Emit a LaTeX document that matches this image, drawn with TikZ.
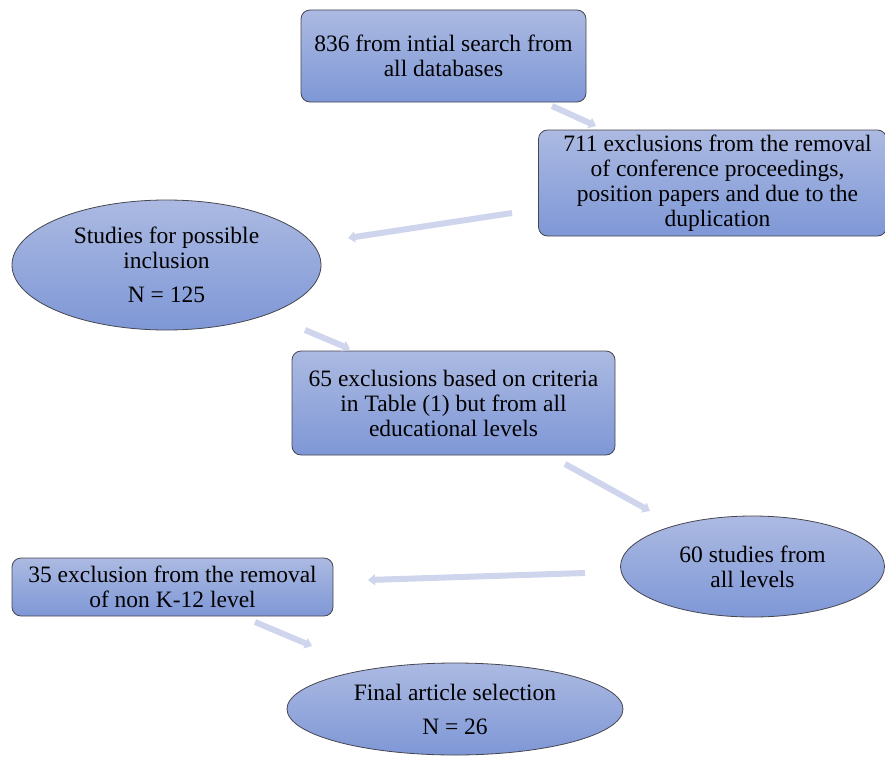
\documentclass[tikz,border=0pt]{standalone}
\usepackage{fontspec}
\setmainfont{Liberation Serif}
\usetikzlibrary{shapes.geometric,arrows.meta}
\definecolor{topc}{RGB}{172,186,226}
\definecolor{botc}{RGB}{126,151,214}
\definecolor{edgec}{RGB}{70,70,80}
\definecolor{arrc}{RGB}{206,213,236}
\tikzset{
  txt/.style={font=\fontsize{23.5}{25}\selectfont, text=black, align=center},
  rbox/.style={txt, rectangle, rounded corners=9pt, draw=edgec, line width=0.8pt, top color=topc, bottom color=botc, inner sep=0pt},
  ell/.style={txt, ellipse, draw=edgec, line width=0.8pt, top color=topc, bottom color=botc, inner sep=0pt},
  flow/.style={draw=arrc, line width=6pt, -{Triangle[width=11pt,length=7pt]}}
}
\begin{document}
\begin{tikzpicture}[x=1pt,y=-1pt]
\useasboundingbox (0,0) rectangle (885,760);
\node[rbox, minimum width=285pt, minimum height=92pt] (b1) at (443.5,56) {836 from intial search from\\all databases};
\node[rbox, minimum width=348pt, minimum height=106pt] (b2) at (712.5,183) {\hspace*{10pt}711 exclusions from the removal\\\hspace*{10pt}of conference proceedings,\\\hspace*{10pt}position papers and due to the\\\hspace*{10pt}duplication};
\node[ell, minimum width=309pt, minimum height=130pt] (e1) at (166.5,265) {Studies for possible\\inclusion\\[9pt]N = 125};
\node[rbox, minimum width=323pt, minimum height=104pt] (b3) at (453.5,403) {65 exclusions based on criteria\\in Table (1) but from all\\educational levels};
\node[ell, minimum width=264pt, minimum height=101pt] (e2) at (752.5,566.5) {60 studies from\\all levels};
\node[rbox, minimum width=321pt, minimum height=58pt] (b4) at (172.5,587) {35 exclusion from the removal\\of non K-12 level};
\node[ell, minimum width=336pt, minimum height=92pt] (e3) at (455,709) {Final article selection\\[9pt]N = 26};
\coordinate (a1s) at (552,106); \coordinate (a1e) at (596,126);
\coordinate (a2s) at (512,213); \coordinate (a2e) at (348,238);
\coordinate (a3s) at (305,330); \coordinate (a3e) at (350,349);
\coordinate (a4s) at (565,464); \coordinate (a4e) at (650,511);
\coordinate (a5s) at (585,573); \coordinate (a5e) at (368,580);
\coordinate (a6s) at (255,622); \coordinate (a6e) at (312,646);
\draw[flow] (a1s) -- (a1e);
\draw[flow] (a2s) -- (a2e);
\draw[flow] (a3s) -- (a3e);
\draw[flow] (a4s) -- (a4e);
\draw[flow] (a5s) -- (a5e);
\draw[flow] (a6s) -- (a6e);
\end{tikzpicture}
\end{document}
